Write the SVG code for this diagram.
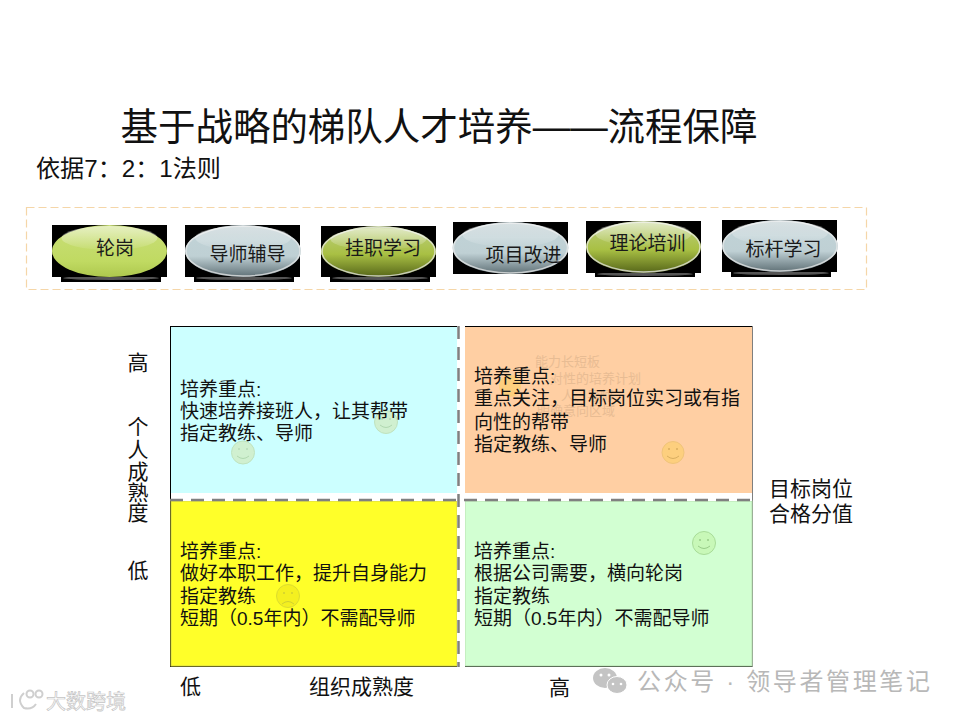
<svg xmlns="http://www.w3.org/2000/svg" width="960" height="720" viewBox="0 0 960 720">
<style>
text{font-family:"Liberation Sans","Noto Sans CJK SC",sans-serif;fill:#111}
.t{font-size:19px;fill:#1a1a1a}
.b{font-size:19px}
.a{font-size:21px}
.f{font-size:13px;fill:#e8bc93}
.blk{fill:#000}
.shl{fill:#555}
.gl{fill:url(#gloss)}
.rim{fill:none;stroke:#e8e8e8;stroke-opacity:.75;stroke-width:1.500}
.wm{fill:#b8b8b8;font-size:24px}
</style>
<defs>
<linearGradient id="lg" x1="0" y1="0" x2="0" y2="1"><stop offset="0" stop-color="#c9de78"/><stop offset=".7" stop-color="#c0da62"/><stop offset="1" stop-color="#aec84e"/></linearGradient>
<linearGradient id="dg" x1="0" y1="0" x2="0" y2="1"><stop offset="0" stop-color="#bccf80"/><stop offset=".55" stop-color="#a9c044"/><stop offset="1" stop-color="#566619"/></linearGradient>
<linearGradient id="gg" x1="0" y1="0" x2="0" y2="1"><stop offset="0" stop-color="#a9bcc1"/><stop offset=".3" stop-color="#c0d2d6"/><stop offset=".6" stop-color="#bfd0d4"/><stop offset="1" stop-color="#5f7076"/></linearGradient>
<linearGradient id="gloss" x1="0" y1="0" x2="0" y2="1"><stop offset="0" stop-color="#fff" stop-opacity=".55"/><stop offset="1" stop-color="#fff" stop-opacity=".05"/></linearGradient>
</defs>
<text x="439" y="139.500" text-anchor="middle" style="font-size:38px" textLength="637" lengthAdjust="spacingAndGlyphs">基于战略的梯队人才培养——流程保障</text>
<text x="36" y="177" style="font-size:24px" textLength="185" lengthAdjust="spacingAndGlyphs">依据7：2：1法则</text>
<rect x="26.500" y="207.500" width="840" height="82" fill="none" stroke="#f5d6a8" stroke-width="1.200" stroke-dasharray="8 4"/>
<g id="btn1"><rect class="blk" x="61" y="276" width="100" height="6"/><ellipse class="shl" cx="111" cy="278" rx="48" ry="2"/><rect class="blk" x="52" y="225" width="115" height="52"/><ellipse cx="109.500" cy="251" rx="57.500" ry="26" fill="url(#lg)"/><ellipse class="gl" cx="109.500" cy="238" rx="48" ry="12"/><text class="t" x="115" y="255" text-anchor="middle">轮岗</text></g>
<g id="btn2"><rect class="blk" x="194" y="276" width="100" height="6"/><ellipse class="shl" cx="244" cy="278" rx="48" ry="2"/><rect class="blk" x="185" y="225" width="115" height="52"/><ellipse cx="243" cy="251" rx="58" ry="26" fill="url(#gg)"/><ellipse class="rim" cx="243" cy="251" rx="57" ry="25"/><ellipse class="gl" cx="243" cy="238" rx="48" ry="12"/><text class="t" x="247.500" y="261" text-anchor="middle">导师辅导</text></g>
<g id="btn3"><rect class="blk" x="330" y="276" width="100" height="6"/><ellipse class="shl" cx="380" cy="278" rx="48" ry="2"/><rect class="blk" x="321" y="226" width="115" height="51"/><ellipse cx="378.500" cy="251.500" rx="57.500" ry="25.500" fill="url(#dg)"/><ellipse class="rim" cx="378.500" cy="251.500" rx="56.500" ry="24.500"/><ellipse class="gl" cx="378.500" cy="239" rx="48" ry="11"/><text class="t" x="383" y="255" text-anchor="middle">挂职学习</text></g>
<g id="btn4"><rect class="blk" x="453" y="222" width="115" height="52"/><ellipse cx="510.500" cy="248" rx="58" ry="26" fill="url(#gg)"/><ellipse class="rim" cx="510.500" cy="248" rx="57" ry="25"/><ellipse class="gl" cx="510.500" cy="235" rx="48" ry="12"/><text class="t" x="523.500" y="262" text-anchor="middle">项目改进</text></g>
<g id="btn5"><rect class="blk" x="595" y="272" width="100" height="5"/><ellipse class="shl" cx="645" cy="274" rx="48" ry="2"/><rect class="blk" x="586" y="221" width="115" height="52"/><ellipse cx="643.500" cy="247" rx="57.500" ry="26" fill="url(#dg)"/><ellipse class="rim" cx="643.500" cy="247" rx="56.500" ry="25"/><ellipse class="gl" cx="643.500" cy="234" rx="48" ry="12"/><text class="t" x="647.500" y="250" text-anchor="middle">理论培训</text></g>
<g id="btn6"><rect class="blk" x="731" y="271" width="100" height="6"/><ellipse class="shl" cx="781" cy="273" rx="48" ry="2"/><rect class="blk" x="722" y="220" width="115" height="52"/><ellipse cx="780" cy="246" rx="58" ry="26" fill="url(#gg)"/><ellipse class="rim" cx="780" cy="246" rx="57" ry="25"/><ellipse class="gl" cx="780" cy="233" rx="48" ry="12"/><text class="t" x="783.500" y="256" text-anchor="middle">标杆学习</text></g>
<rect x="170.500" y="326.500" width="581.500" height="340" fill="none" stroke="#000"/>
<g id="q1">
<rect x="171" y="327" width="286" height="166" fill="#ccffff"/>
<g><circle cx="386" cy="422" r="11.500" fill="#d0f0d0" stroke="#bfe3bf"/><circle cx="382" cy="419" r="1" fill="#b8dcb8"/><circle cx="390" cy="419" r="1" fill="#b8dcb8"/><path d="M380 425q6 5 12 0" fill="none" stroke="#b0d8b0"/></g>
<g><circle cx="243" cy="452.500" r="11.500" fill="#d0f0d0" stroke="#bfe3bf"/><circle cx="239" cy="449" r="1" fill="#b8dcb8"/><circle cx="247" cy="449" r="1" fill="#b8dcb8"/><path d="M237 456q6 5 12 0" fill="none" stroke="#b0d8b0"/></g>
<text class="b" x="180" y="396">培养重点:</text><text class="b" x="180" y="418">快速培养接班人，让其帮带</text><text class="b" x="180" y="440">指定教练、导师</text>
</g>
<g id="q2">
<rect x="465" y="327" width="287" height="166" fill="#ffcfa3"/>
<g><circle cx="673" cy="452.500" r="11" fill="#fdcf7e" stroke="#f0c47a"/><circle cx="669" cy="449" r="1" fill="#d9ae60"/><circle cx="677" cy="449" r="1" fill="#d9ae60"/><path d="M667 456q6 5 12 0" fill="none" stroke="#d9ae60"/></g>
<circle cx="510" cy="386" r="11" fill="#fdcf7e"/>
<text class="f" x="535" y="366">能力长短板</text><text class="f" x="550" y="383">对性的培养计划</text><text class="f" x="561" y="400">人、导师</text><text class="f" x="537" y="415">明确意向区域</text>
<text class="b" x="474" y="383">培养重点:</text><text class="b" x="474" y="405">重点关注，目标岗位实习或有指</text><text class="b" x="474" y="428.500">向性的帮带</text><text class="b" x="474" y="450.500">指定教练、导师</text>
</g>
<g id="q3">
<rect x="171" y="501" width="286" height="165" fill="#ffff29" stroke="#d6d64a"/>
<g><circle cx="288" cy="596" r="11.500" fill="#f4f020" stroke="#dcdc30"/><circle cx="284" cy="593" r="1" fill="#d0d030"/><circle cx="292" cy="593" r="1" fill="#d0d030"/><path d="M282 604q6 -5 12 0" fill="none" stroke="#d0d030"/></g>
<text class="b" x="180" y="558">培养重点:</text><text class="b" x="180" y="580">做好本职工作，提升自身能力</text><text class="b" x="180" y="603">指定教练</text><text class="b" x="180" y="625">短期（0.5年内）不需配导师</text>
</g>
<g id="q4">
<rect x="465" y="501" width="287" height="165" fill="#d2ffd2" stroke="#b8e0b0"/>
<g><circle cx="704" cy="543" r="11.500" fill="#c8f8b8" stroke="#a8dc98"/><circle cx="700" cy="540" r="1" fill="#98cc88"/><circle cx="708" cy="540" r="1" fill="#98cc88"/><path d="M698 546q6 5 12 0" fill="none" stroke="#98cc88"/></g>
<text class="b" x="474" y="558">培养重点:</text><text class="b" x="474" y="580">根据公司需要，横向轮岗</text><text class="b" x="474" y="603">指定教练</text><text class="b" x="474" y="625">短期（0.5年内）不需配导师</text>
</g>
<g id="connectors" fill="none">
<rect x="457" y="326" width="8" height="342" fill="#fff"/>
<rect x="171" y="493" width="581" height="8" fill="#fff"/>
<line x1="170.500" y1="493" x2="170.500" y2="500" stroke="#000"/>
<line x1="458.500" y1="326" x2="458.500" y2="667" stroke="#808080" stroke-width="2.500" stroke-dasharray="13 8"/>
<line x1="170" y1="500" x2="752" y2="500" stroke="#808080" stroke-width="2.500" stroke-dasharray="13 8"/>
</g>
<g id="labels">
<text class="a" x="138" y="370" text-anchor="middle">高</text>
<text class="a" x="138" y="434" text-anchor="middle">个</text><text class="a" x="138" y="457" text-anchor="middle">人</text><text class="a" x="138" y="479" text-anchor="middle">成</text><text class="a" x="138" y="500" text-anchor="middle">熟</text><text class="a" x="138" y="520" text-anchor="middle">度</text>
<text class="a" x="138" y="578" text-anchor="middle">低</text>
<text class="a" x="180" y="694">低</text><text class="a" x="309" y="694">组织成熟度</text><text class="a" x="549" y="695">高</text>
<text class="a" x="769" y="496">目标岗位</text><text class="a" x="769" y="521">合格分值</text>
</g>
<g id="watermark">
<g fill="#c4c4c4"><ellipse cx="605" cy="678" rx="12" ry="10"/><ellipse cx="617" cy="685" rx="10" ry="8.500" stroke="#fff"/><circle cx="601" cy="675" r="1.500" fill="#fff"/><circle cx="609" cy="675" r="1.500" fill="#fff"/><circle cx="613" cy="684" r="1.300" fill="#fff"/><circle cx="621" cy="684" r="1.300" fill="#fff"/></g>
<text class="wm" x="637" y="690" textLength="293">公众号 · 领导者管理笔记</text>
<g fill="none" stroke="#cfcfcf" stroke-width="2"><path d="M12 694v14M24 693q-8 7 0 15q8 2 12 -4"/><circle cx="30" cy="694" r="3.500"/><circle cx="39" cy="694" r="3.500"/></g>
<text x="46" y="709" style="font-size:20px;fill:#fff;stroke:#c4c4c4;stroke-width:.7" textLength="80">大数跨境</text>
</g>
</svg>
